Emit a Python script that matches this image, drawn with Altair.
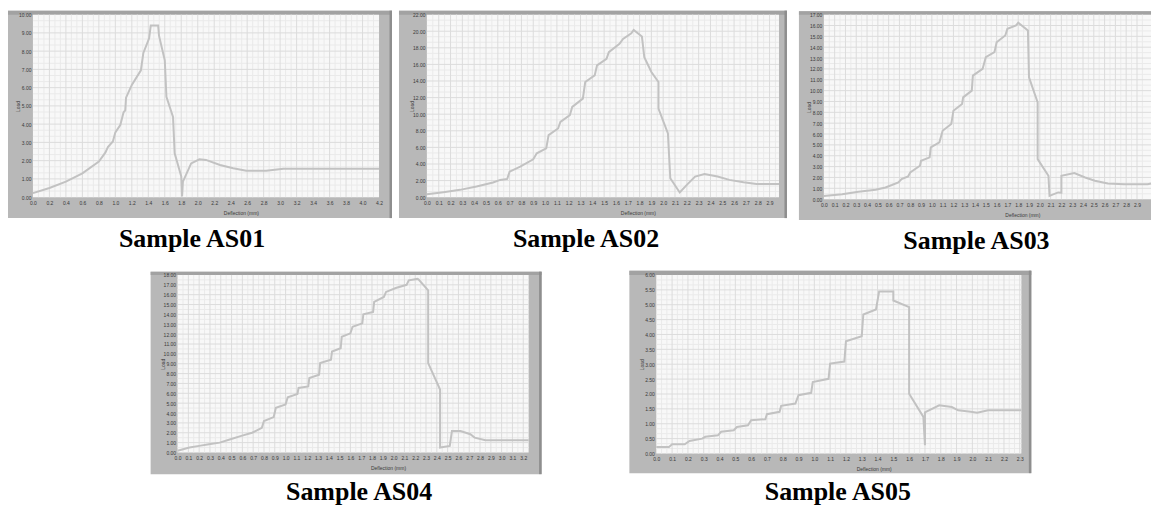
import altair as alt
import pandas as pd

# ---------------- data ----------------
DEFL_AS01 = [0.00, 0.20, 0.40, 0.60, 0.80, 0.88, 0.91, 0.97, 1.00, 1.06, 1.10, 1.12, 1.13, 1.20, 1.31, 1.34, 1.41, 1.43, 1.52,
             1.53, 1.60, 1.62, 1.70, 1.72, 1.80, 1.81, 1.82, 1.92, 2.02, 2.10, 2.27, 2.43, 2.59, 2.83, 3.04, 4.20]
LOAD_AS01 = [0.22, 0.50, 0.85, 1.30, 1.95, 2.45, 2.75, 3.05, 3.55, 3.95, 4.65, 4.75, 5.45, 6.15, 6.95, 7.90, 8.70, 9.40, 9.40,
             8.85, 7.50, 5.50, 4.40, 2.40, 1.13, 0.04, 0.85, 1.85, 2.07, 2.04, 1.76, 1.58, 1.45, 1.45, 1.55, 1.55]

DEFL_AS02 = [0.00, 0.14, 0.28, 0.42, 0.56, 0.62, 0.68, 0.70, 0.79, 0.90, 0.93, 1.01, 1.03, 1.11, 1.13, 1.21, 1.23, 1.32, 1.34,
             1.42, 1.44, 1.52, 1.54, 1.63, 1.66, 1.73, 1.75, 1.82, 1.84, 1.90, 1.96, 1.96, 2.04, 2.06, 2.14, 2.20, 2.27, 2.35,
             2.46, 2.56, 2.68, 2.79, 2.98]
LOAD_AS02 = [0.36, 0.60, 0.88, 1.28, 1.76, 2.08, 2.20, 3.08, 3.68, 4.56, 5.28, 5.88, 7.48, 8.28, 9.08, 9.88, 10.88, 11.88,
             13.88, 14.68, 15.88, 16.68, 17.48, 18.48, 19.08, 19.76, 20.16, 19.36, 16.88, 15.08, 13.88, 10.68, 7.68, 2.28,
             0.56, 1.48, 2.48, 2.80, 2.48, 2.08, 1.80, 1.60, 1.60]

DEFL_AS03 = [0.00, 0.17, 0.32, 0.48, 0.57, 0.63, 0.69, 0.72, 0.78, 0.80, 0.89, 0.90, 0.98, 0.99, 1.07, 1.10, 1.18, 1.20, 1.28,
             1.29, 1.37, 1.38, 1.47, 1.50, 1.58, 1.60, 1.68, 1.70, 1.78, 1.80, 1.89, 1.90, 1.98, 1.98, 2.08, 2.09, 2.17, 2.20,
             2.20, 2.32, 2.42, 2.51, 2.63, 2.78, 3.00, 3.03]
LOAD_AS03 = [0.30, 0.46, 0.68, 0.86, 1.08, 1.30, 1.54, 1.85, 2.10, 2.46, 3.08, 3.54, 3.85, 4.77, 5.23, 6.30, 6.92, 8.15, 8.77,
             9.38, 10.00, 11.38, 12.00, 13.08, 13.54, 14.46, 15.08, 15.69, 16.00, 16.25, 15.54, 11.23, 8.92, 3.69, 2.15,
             0.30, 0.62, 0.60, 2.15, 2.40, 2.00, 1.69, 1.45, 1.38, 1.38, 1.45]

DEFL_AS04 = [0.00, 0.11, 0.20, 0.29, 0.39, 0.49, 0.59, 0.69, 0.78, 0.80, 0.89, 0.91, 1.00, 1.02, 1.11, 1.12, 1.21, 1.22, 1.31,
             1.32, 1.42, 1.43, 1.51, 1.52, 1.60, 1.62, 1.71, 1.72, 1.81, 1.82, 1.91, 1.93, 2.02, 2.12, 2.14, 2.22, 2.23, 2.32,
             2.32, 2.43, 2.43, 2.52, 2.54, 2.62, 2.71, 2.75, 2.85, 3.25]
LOAD_AS04 = [0.17, 0.50, 0.67, 0.84, 1.00, 1.34, 1.68, 2.00, 2.50, 3.19, 3.59, 4.53, 4.87, 5.60, 5.94, 6.54, 6.70, 7.55, 7.89,
             9.06, 9.40, 10.23, 10.57, 11.74, 12.08, 12.75, 13.09, 14.00, 14.26, 15.27, 15.77, 16.28, 16.68, 17.00, 17.45,
             17.60, 17.55, 16.44, 9.06, 6.38, 0.50, 0.67, 2.18, 2.18, 1.85, 1.51, 1.24, 1.24]

DEFL_AS05 = [0.00, 0.08, 0.10, 0.18, 0.21, 0.29, 0.31, 0.39, 0.41, 0.49, 0.51, 0.58, 0.60, 0.69, 0.70, 0.78, 0.79, 0.88, 0.90,
             0.98, 0.99, 1.09, 1.10, 1.19, 1.20, 1.30, 1.31, 1.39, 1.41, 1.50, 1.50, 1.60, 1.60, 1.69, 1.70, 1.70, 1.79, 1.87,
             1.91, 1.99, 2.03, 2.10, 2.31]
LOAD_AS05 = [0.22, 0.22, 0.31, 0.31, 0.42, 0.50, 0.56, 0.61, 0.73, 0.78, 0.89, 0.95, 1.12, 1.15, 1.32, 1.40, 1.60, 1.68, 1.96,
             2.04, 2.40, 2.51, 3.02, 3.09, 3.77, 3.94, 4.67, 4.84, 5.44, 5.44, 5.14, 4.92, 2.01, 1.23, 0.28, 1.38, 1.62, 1.56,
             1.45, 1.40, 1.37, 1.45, 1.45]

# tick labels
X_TICKS_AS01 = [0.0, 0.2, 0.4, 0.6, 0.8, 1.0, 1.2, 1.4, 1.6, 1.8, 2.0, 2.2, 2.4, 2.6, 2.8, 3.0, 3.2, 3.4, 3.6, 3.8, 4.0, 4.2]
Y_TICKS_AS01 = [0, 1, 2, 3, 4, 5, 6, 7, 8, 9, 10]
X_TICKS_AS02 = [0.0, 0.1, 0.2, 0.3, 0.4, 0.5, 0.6, 0.7, 0.8, 0.9, 1.0, 1.1, 1.2, 1.3, 1.4, 1.5, 1.6, 1.7, 1.8, 1.9,
                2.0, 2.1, 2.2, 2.3, 2.4, 2.5, 2.6, 2.7, 2.8, 2.9]
Y_TICKS_AS02 = [0, 2, 4, 6, 8, 10, 12, 14, 16, 18, 20, 22]
X_TICKS_AS03 = [0.0, 0.1, 0.2, 0.3, 0.4, 0.5, 0.6, 0.7, 0.8, 0.9, 1.0, 1.1, 1.2, 1.3, 1.4, 1.5, 1.6, 1.7, 1.8, 1.9,
                2.0, 2.1, 2.2, 2.3, 2.4, 2.5, 2.6, 2.7, 2.8, 2.9]
Y_TICKS_AS03 = [0, 1, 2, 3, 4, 5, 6, 7, 8, 9, 10, 11, 12, 13, 14, 15, 16, 17]
X_TICKS_AS04 = [0.0, 0.1, 0.2, 0.3, 0.4, 0.5, 0.6, 0.7, 0.8, 0.9, 1.0, 1.1, 1.2, 1.3, 1.4, 1.5, 1.6, 1.7, 1.8, 1.9,
                2.0, 2.1, 2.2, 2.3, 2.4, 2.5, 2.6, 2.7, 2.8, 2.9, 3.0, 3.1, 3.2]
Y_TICKS_AS04 = [0, 1, 2, 3, 4, 5, 6, 7, 8, 9, 10, 11, 12, 13, 14, 15, 16, 17, 18]
X_TICKS_AS05 = [0.0, 0.1, 0.2, 0.3, 0.4, 0.5, 0.6, 0.7, 0.8, 0.9, 1.0, 1.1, 1.2, 1.3, 1.4, 1.5, 1.6, 1.7, 1.8, 1.9,
                2.0, 2.1, 2.2, 2.3]
Y_TICKS_AS05 = [0.0, 0.5, 1.0, 1.5, 2.0, 2.5, 3.0, 3.5, 4.0, 4.5, 5.0, 5.5, 6.0]

FRAME = "#b8b8b8"
FRAME_TOP = "#a2a2a2"
FRAME_EDGE = "#8e8e8e"
PLOT_BG = "#f8f8f8"
GRID_MAJOR = "#dcdcdc"
GRID_MINOR = "#eaeaea"
LINE = "#c2c2c2"
LABEL = "#3a3a3a"


def subdivide(ticks, end, sub):
    out = []
    step = ticks[1] - ticks[0]
    for t in ticks:
        for k in range(1, sub):
            v = t + step * k / sub
            if v < end:
                out.append(v)
    return out


def one_row():
    return alt.Data(values=[{"a": 0}])


def panel(name, defl, load, xdom, ydom, xticks, yticks, w, h, margins, xsub, ysub, tdx, toff):
    L, R, T, B = margins
    df = pd.DataFrame({"order": list(range(len(defl))), "defl": defl, "load": load})
    xs = alt.Scale(domain=xdom, nice=False, zero=False)
    ys = alt.Scale(domain=ydom, nice=False, zero=False)
    xaxis = alt.Axis(
        values=xticks, format=".1f", grid=False, domain=False, ticks=False,
        labelFontSize=5, labelColor=LABEL, labelPadding=3, labelFont="Liberation Sans",
        labelOverlap=False, labelFlush=False,
        title="Deflection (mm)", titleFontSize=5, titleFontWeight="normal", titleColor=LABEL,
        titleFont="Liberation Sans", titleX=w / 2 + 35, titleY=15, titleAlign="center",
        titleBaseline="middle", zindex=1)
    yaxis = alt.Axis(
        values=yticks, format=".2f", grid=False, domain=False, ticks=False,
        labelFontSize=5, labelColor=LABEL, labelPadding=2, labelFont="Liberation Sans",
        labelOverlap=False, labelFlush=False,
        title="Load", titleFontSize=5, titleFontWeight="normal", titleColor=LABEL,
        titleFont="Liberation Sans", titleX=-15, titleY=h / 2, titleAngle=270,
        titleAlign="center", titleBaseline="middle", zindex=1)

    frame = alt.Chart(one_row()).mark_rect(color=FRAME).encode(
        x=alt.value(-L), x2=alt.value(w + R), y=alt.value(-T), y2=alt.value(h + B))
    top_band = alt.Chart(one_row()).mark_rect(color=FRAME_TOP).encode(
        x=alt.value(-L), x2=alt.value(w + R), y=alt.value(-T), y2=alt.value(0))
    layers = [frame, top_band]
    if R > 3:
        right_edge = alt.Chart(one_row()).mark_rect(color=FRAME_EDGE).encode(
            x=alt.value(w + R - 2.5), x2=alt.value(w + R), y=alt.value(-T), y2=alt.value(h + B))
        layers.append(right_edge)
    plot_bg = alt.Chart(one_row()).mark_rect(color=PLOT_BG).encode(
        x=alt.value(0), x2=alt.value(w), y=alt.value(0), y2=alt.value(h))
    layers.append(plot_bg)

    gx_minor = pd.DataFrame({"g": subdivide(xticks, xdom[1], xsub)})
    gy_minor = pd.DataFrame({"g": subdivide(yticks, ydom[1], ysub)})
    gx_major = pd.DataFrame({"g": [t for t in xticks if 0 < t < xdom[1]]})
    gy_major = pd.DataFrame({"g": [t for t in yticks if 0 < t < ydom[1]]})
    layers += [
        alt.Chart(gx_minor).mark_rule(color=GRID_MINOR, strokeWidth=1).encode(
            x=alt.X("g:Q", scale=xs, axis=xaxis)),
        alt.Chart(gy_minor).mark_rule(color=GRID_MINOR, strokeWidth=1).encode(
            y=alt.Y("g:Q", scale=ys, axis=yaxis)),
        alt.Chart(gx_major).mark_rule(color=GRID_MAJOR, strokeWidth=1).encode(
            x=alt.X("g:Q", scale=xs, axis=xaxis)),
        alt.Chart(gy_major).mark_rule(color=GRID_MAJOR, strokeWidth=1).encode(
            y=alt.Y("g:Q", scale=ys, axis=yaxis)),
    ]

    line = alt.Chart(df).mark_line(color=LINE, strokeWidth=2).encode(
        x=alt.X("defl:Q", scale=xs, axis=xaxis),
        y=alt.Y("load:Q", scale=ys, axis=yaxis),
        order="order:Q")
    layers.append(line)

    return alt.layer(*layers).properties(
        width=w, height=h,
        title=alt.TitleParams(text=name, orient="bottom", anchor="middle", font="Liberation Serif",
                              fontSize=26, fontWeight="bold", color="#000000", offset=toff, dx=tdx))


p1 = panel("Sample AS01", DEFL_AS01, LOAD_AS01, [0, 4.2], [0, 10], X_TICKS_AS01, Y_TICKS_AS01,
           347, 183, (25, 13, 4, 21), 3, 3, -14, 8)
p2 = panel("Sample AS02", DEFL_AS02, LOAD_AS02, [0, 2.98], [0, 22], X_TICKS_AS02, Y_TICKS_AS02,
           353, 183, (28, 8, 4, 21), 2, 3, -17, 8)
p3 = panel("Sample AS03", DEFL_AS03, LOAD_AS03, [0, 3.03], [0, 17], X_TICKS_AS03, Y_TICKS_AS03,
           328, 185, (25, 0, 3.4, 21), 2, 2, -11, 8)
p4 = panel("Sample AS04", DEFL_AS04, LOAD_AS04, [0, 3.25], [0, 18], X_TICKS_AS04, Y_TICKS_AS04,
           352, 178, (27, 13, 3.3, 21.7), 2, 2, 6, 5)
p5 = panel("Sample AS05", DEFL_AS05, LOAD_AS05, [0, 2.31], [0, 6], X_TICKS_AS05, Y_TICKS_AS05,
           366, 179, (27, 10, 4.3, 19.7), 3, 3, -1, 6)

spacer = alt.Chart(one_row()).mark_rule(opacity=0).encode(
    x=alt.value(0), x2=alt.value(30), y=alt.value(0)).properties(width=30, height=10)

top = alt.hconcat(alt.hconcat(p1, p2, spacing=7), p3, spacing=12)
bottom = alt.hconcat(spacer, p4, p5, spacing=88)

chart = alt.vconcat(top, bottom, spacing=16).configure_view(strokeWidth=0).properties(
    padding={"left": 0, "top": 2, "right": 0, "bottom": 0}, background="white")

chart.save("out.html", embed_options={"renderer": "svg", "actions": False})
